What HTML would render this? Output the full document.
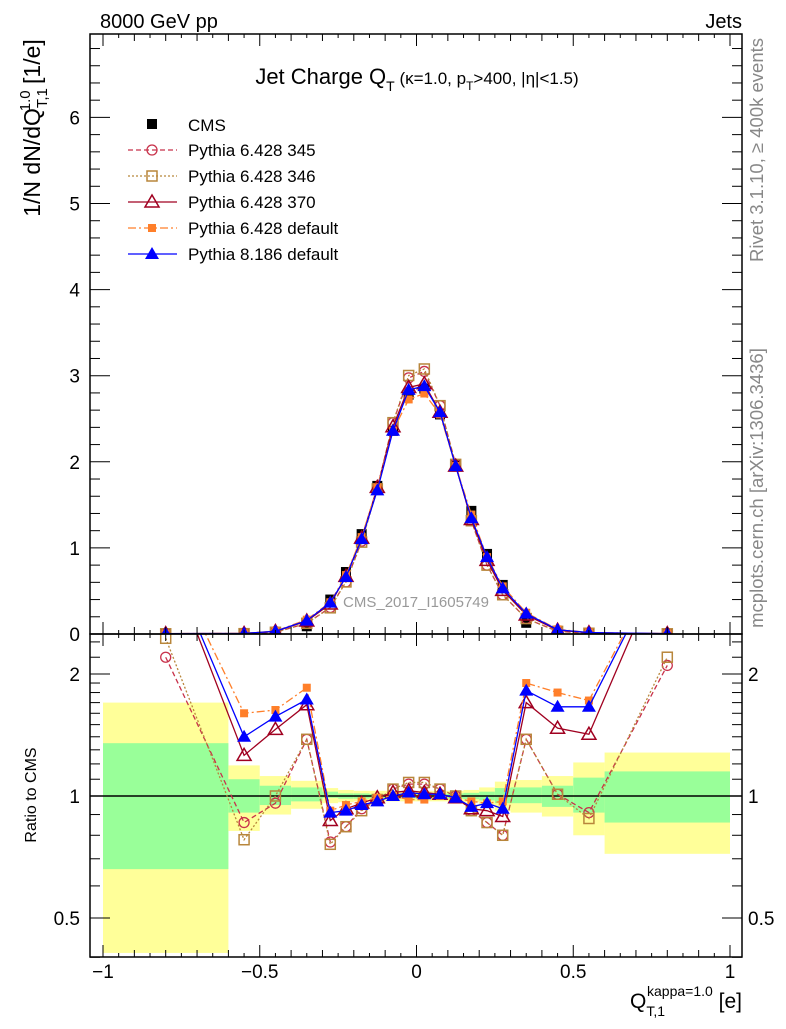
<!DOCTYPE html>
<html><head><meta charset="utf-8"><style>
body{margin:0;background:#fff;}
svg{font-family:"Liberation Sans",sans-serif;}
</style></head><body>
<svg id="c" width="786" height="1024" xmlns="http://www.w3.org/2000/svg">
<defs>
<clipPath id="cm"><rect x="90" y="34" width="652" height="600"/></clipPath>
<clipPath id="cr"><rect x="90" y="634" width="652" height="323"/></clipPath>
</defs>
<g id="bands" clip-path="url(#cr)"></g>
<g id="main" clip-path="url(#cm)"></g>
<g id="ratio" clip-path="url(#cr)"></g>
<g id="axes"></g>
<text x="100" y="28" font-size="20">8000 GeV pp</text>
<text x="742" y="28" font-size="20" text-anchor="end">Jets</text>
<text x="417" y="84" font-size="22" text-anchor="middle">Jet Charge Q<tspan font-size="14" dy="7">T</tspan><tspan dy="-7" font-size="17"> (κ=1.0, p</tspan><tspan font-size="12" dy="6">T</tspan><tspan dy="-6" font-size="17">&gt;400, |η|&lt;1.5)</tspan></text>
<text transform="translate(40,128) rotate(-90)" font-size="23" text-anchor="middle">1/N dN/dQ<tspan font-size="15" dy="7">T,1</tspan><tspan font-size="15" dy="-17" dx="-22">1.0</tspan><tspan dy="10"> [1/e]</tspan></text>
<text transform="translate(36,795) rotate(-90)" font-size="16" text-anchor="middle">Ratio to CMS</text>
<text transform="translate(763,150) rotate(-90)" font-size="18.5" fill="#888" text-anchor="middle">Rivet 3.1.10, ≥ 400k events</text>
<text transform="translate(763,488) rotate(-90)" font-size="18.5" fill="#888" text-anchor="middle">mcplots.cern.ch [arXiv:1306.3436]</text>
<text x="416" y="607" font-size="15" fill="#999" text-anchor="middle">CMS_2017_I1605749</text>
<text x="742" y="1008" font-size="21" text-anchor="end">Q<tspan font-size="14" dy="8">T,1</tspan><tspan font-size="14" dy="-20" dx="-18">kappa=1.0</tspan><tspan dy="12"> [e]</tspan></text>
<g id="legend"></g>
</svg>
<script>
const xs=[-0.8,-0.55,-0.45,-0.35,-0.275,-0.225,-0.175,-0.125,-0.075,-0.025,0.025,0.075,0.125,0.175,0.225,0.275,0.35,0.45,0.55,0.8];
const cms=[0.001,0.005,0.02,0.09,0.40,0.72,1.16,1.72,2.36,2.78,2.85,2.55,1.97,1.43,0.93,0.57,0.13,0.03,0.01,0.001];
const r345=[2.2,0.86,0.96,1.38,0.77,0.84,0.93,0.98,1.04,1.07,1.07,1.04,1.0,0.92,0.86,0.80,1.38,1.01,0.91,2.1];
const r346=[2.45,0.78,1.0,1.38,0.76,0.84,0.92,0.98,1.04,1.08,1.08,1.04,1.0,0.92,0.86,0.80,1.38,1.01,0.88,2.2];
const r370=[4,1.26,1.46,1.68,0.87,0.93,0.96,0.99,1.02,1.03,1.02,1.01,0.99,0.93,0.92,0.89,1.70,1.47,1.42,4];
const rdef6=[4,1.60,1.63,1.85,0.92,0.95,0.97,0.99,1.0,0.98,0.98,1.0,0.99,0.97,0.96,0.97,1.90,1.80,1.72,4];
const r8=[4,1.40,1.57,1.73,0.91,0.92,0.95,0.97,1.0,1.02,1.01,1.01,0.99,0.94,0.96,0.93,1.82,1.66,1.66,4];
const binEdges=[-1,-0.6,-0.5,-0.4,-0.3,-0.25,-0.2,-0.15,-0.1,-0.05,0,0.05,0.1,0.15,0.2,0.25,0.3,0.4,0.5,0.6,1];
const yelHi=[1.70,1.19,1.12,1.09,1.046,1.035,1.03,1.03,1.03,1.03,1.03,1.03,1.03,1.035,1.05,1.085,1.095,1.12,1.21,1.28];
const yelLo=[0.41,0.82,0.90,0.93,0.96,0.965,0.97,0.97,0.97,0.97,0.97,0.97,0.97,0.965,0.95,0.92,0.91,0.89,0.80,0.72];
const grnHi=[1.35,1.10,1.06,1.05,1.025,1.015,1.015,1.012,1.012,1.012,1.012,1.012,1.015,1.018,1.025,1.046,1.05,1.06,1.11,1.15];
const grnLo=[0.66,0.91,0.95,0.97,0.99,0.985,0.985,0.988,0.988,0.988,0.988,0.988,0.985,0.982,0.975,0.96,0.96,0.94,0.91,0.86];
const mainTicks=[0,1,2,3,4,5,6];
const xTicks=[-1,-0.5,0,0.5,1];
const ratioTicks=[0.5,1,2];

const NS="http://www.w3.org/2000/svg";
const X=v=>416.5+v*313.5;
const Y=v=>634-v*86.1;
const R=v=>796-Math.log2(v)*122;
function mk(p,tag,at){const e=document.createElementNS(NS,tag);for(const k in at)e.setAttribute(k,at[k]);p.appendChild(e);return e;}
const gB=document.getElementById('bands'),gM=document.getElementById('main'),gR=document.getElementById('ratio'),gA=document.getElementById('axes'),gL=document.getElementById('legend');

for(let i=0;i<yelHi.length;i++){
  const x0=X(binEdges[i]),x1=X(binEdges[i+1]);
  const y=mk(gB,'rect',{x:x0,y:R(yelHi[i]),width:x1-x0,height:R(yelLo[i])-R(yelHi[i]),fill:'#ffff99'});
  
  
  const g=mk(gB,'rect',{x:x0,y:R(grnHi[i]),width:x1-x0,height:R(grnLo[i])-R(grnHi[i]),fill:'#99ff99'});
  
  
}
const one=mk(gB,'line',{x1:90,x2:742,y1:R(1),y2:R(1),stroke:'#000','stroke-width':1.5});



function marker(p,type,x,y,col){
  let e;
  if(type==='sq')e=mk(p,'rect',{x:x-5,y:y-5,width:10,height:10,fill:col});
  else if(type==='osq')e=mk(p,'rect',{x:x-5,y:y-5,width:10,height:10,fill:'#fff','fill-opacity':0,stroke:col,'stroke-width':1.5});
  else if(type==='oc')e=mk(p,'circle',{cx:x,cy:y,r:5,fill:'none',stroke:col,'stroke-width':1.3});
  else if(type==='otri')e=mk(p,'polygon',{points:`${x},${y-7} ${x-7},${y+5} ${x+7},${y+5}`,fill:'none',stroke:col,'stroke-width':1.5});
  else if(type==='tri')e=mk(p,'polygon',{points:`${x},${y-7} ${x-7},${y+5} ${x+7},${y+5}`,fill:col});
  else e=mk(p,'rect',{x:x-4,y:y-4,width:8,height:8,fill:col});
  return e;
}
const series=[
 {name:'pythia6-345',r:r345,col:'#c8324b',dash:'5,3',m:'oc',label:'Pythia 6.428 345'},
 {name:'pythia6-346',r:r346,col:'#b8863b',dash:'2,2',m:'osq',label:'Pythia 6.428 346'},
 {name:'pythia6-370',r:r370,col:'#a00020',dash:'',m:'otri',label:'Pythia 6.428 370'},
 {name:'pythia6-default',r:rdef6,col:'#ff7f2a',dash:'8,3,2,3',m:'fsq',label:'Pythia 6.428 default'},
 {name:'pythia8-default',r:r8,col:'#0000ff',dash:'',m:'tri',label:'Pythia 8.186 default'}
];
cms.forEach((v,i)=>{const e=marker(gM,'sq',X(xs[i]),Y(v),'#000');
 
 });
series.forEach(s=>{
  const mp=xs.map((x,i)=>X(x)+','+Y(cms[i]*s.r[i])).join(' ');
  const l1=mk(gM,'polyline',{points:mp,fill:'none',stroke:s.col,'stroke-width':1.3,'stroke-dasharray':s.dash});
  
  
  const rp=xs.map((x,i)=>X(x)+','+R(s.r[i])).join(' ');
  const l2=mk(gR,'polyline',{points:rp,fill:'none',stroke:s.col,'stroke-width':1.3,'stroke-dasharray':s.dash});
  
  
  xs.forEach((x,i)=>{
    const a=marker(gM,s.m,X(x),Y(cms[i]*s.r[i]),s.col);
    
    
    const b=marker(gR,s.m,X(x),R(s.r[i]),s.col);
    
    
  });
});

function L(x1,y1,x2,y2,w){return mk(gA,'line',{x1,y1,x2,y2,stroke:'#000','stroke-width':w||1.3});}
const f1=mk(gA,'rect',{x:90,y:34,width:652,height:600,fill:'none',stroke:'#000','stroke-width':1.5});


const f2=mk(gA,'rect',{x:90,y:634,width:652,height:323,fill:'none',stroke:'#000','stroke-width':1.5});


for(let k=-20;k<=20;k++){const v=k*0.05,x=X(v),maj=k%10===0,mid=k%2===0;const h=maj?12:(mid?7:4);
  L(x,634,x,634-h,1);L(x,34,x,34+h,1);L(x,957,x,957-h,1);L(x,634,x,634+h,1);}
xTicks.forEach(v=>{const t=mk(gA,'text',{x:X(v),y:978,'font-size':19,'text-anchor':'middle'});t.textContent=v===0?'0':(v<0?'−'+Math.abs(v):String(v));
 
 });
for(let k=0;k<=34;k++){const v=k*0.2,y=Y(v),maj=k%5===0;const h=maj?20:10;L(90,y,90+h,y,1);L(742,y,742-h,y,1);}
mainTicks.forEach(v=>{const t=mk(gA,'text',{x:80,y:Y(v)+7,'font-size':19,'text-anchor':'end'});t.textContent=v;
 
 });
[0.4,0.5,0.6,0.7,0.8,0.9,1,1.1,1.2,1.3,1.4,1.5,1.6,1.7,1.8,1.9,2,2.2,2.4].forEach(v=>{const y=R(v);const maj=(v===0.5||v===1||v===2);const h=maj?20:10;L(90,y,90+h,y,1);L(742,y,742-h,y,1);});
ratioTicks.forEach(v=>{const y=R(v)+7;
 const t=mk(gA,'text',{x:80,y,'font-size':19,'text-anchor':'end'});t.textContent=v;
 
 
 const t2=mk(gA,'text',{x:748,y,'font-size':19});t2.textContent=v;
 
 });

const cm=marker(gL,'sq',152,124,'#000');


const ct=mk(gL,'text',{x:188,y:131,'font-size':17});ct.textContent='CMS';


series.forEach((s,i)=>{const y=150+i*26;
  const l=mk(gL,'line',{x1:128,x2:177,y1:y,y2:y,stroke:s.col,'stroke-width':1.3,'stroke-dasharray':s.dash});
  
  
  const m=marker(gL,s.m,152,y,s.col);
  
  
  const t=mk(gL,'text',{x:188,y:y+6,'font-size':17});t.textContent=s.label;
  
  
});
</script>
</body></html>
